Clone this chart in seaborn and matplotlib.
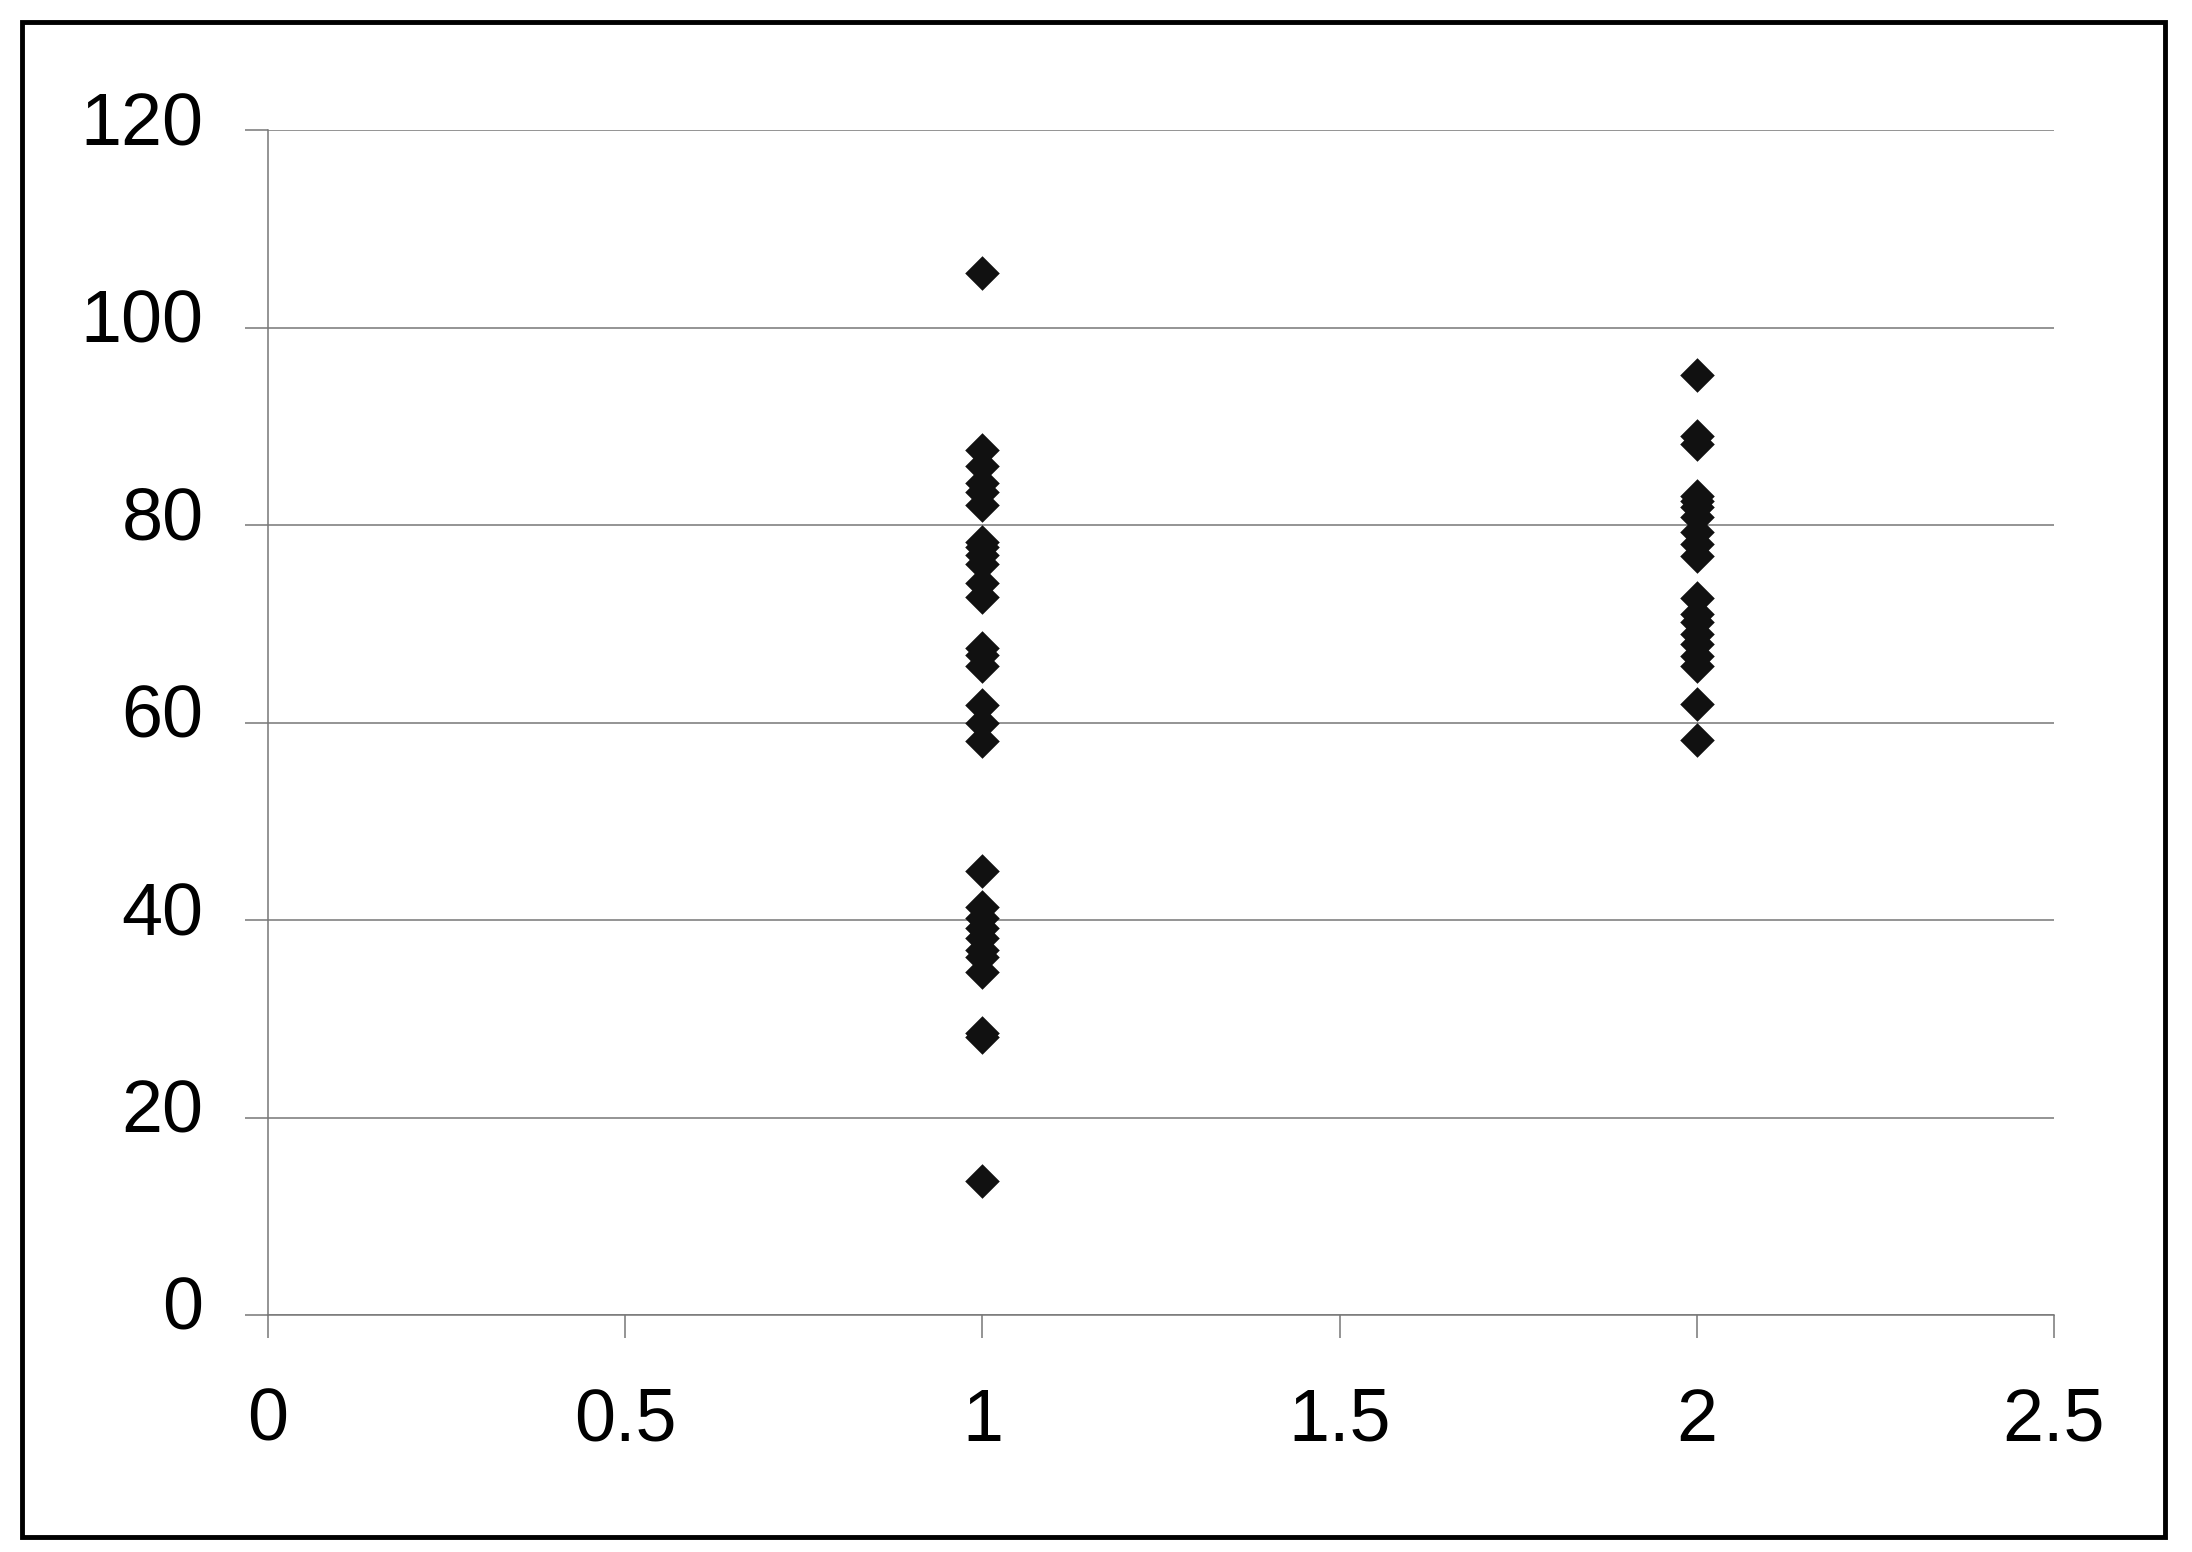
import numpy as np
import pandas as pd
import matplotlib
matplotlib.use("Agg")
import matplotlib.pyplot as plt
import matplotlib.transforms as mtransforms
import seaborn as sns
from matplotlib.patches import Rectangle

# Data
group1_values = [105.5, 87.6, 86.0, 84.3, 83.3, 82.0, 78.3, 77.8, 77.0, 76.1, 74.1, 72.7,
                 67.5, 66.8, 65.7, 61.8, 60.0, 58.1,
                 45.0, 41.3, 40.2, 39.2, 38.2, 37.0, 36.3, 34.7, 28.6, 28.2, 13.6]
group2_values = [95.2, 89.0, 88.2, 82.9, 82.4, 81.8, 80.8, 79.3, 78.1, 76.9,
                 72.6, 71.0, 70.2, 69.0, 68.0, 66.7, 65.7, 61.9, 58.2]
x_ticks = [0, 0.5, 1, 1.5, 2, 2.5]
y_ticks = [0, 20, 40, 60, 80, 100, 120]

df = pd.DataFrame({
    "x": [1] * len(group1_values) + [2] * len(group2_values),
    "y": group1_values + group2_values,
})

sns.set_theme(style="white")
plt.rcParams["font.family"] = ["Liberation Sans", "DejaVu Sans"]

fig = plt.figure(figsize=(21.92, 15.52), dpi=100)
ax = fig.add_axes([268 / 2192, 1 - 1315 / 1552, (2054 - 268) / 2192, (1315 - 130) / 1552])

sns.scatterplot(data=df, x="x", y="y", marker="D", s=310, color="#111111",
                linewidth=0, ax=ax, legend=False, zorder=3)

ax.set_xlim(0, 2.5)
ax.set_ylim(0, 120)
ax.set_xticks(x_ticks)
ax.set_xticklabels(["0", "0.5", "1", "1.5", "2", "2.5"])
ax.set_yticks(y_ticks)
ax.set_yticklabels([str(v) for v in y_ticks])
ax.set_xlabel("")
ax.set_ylabel("")

ax.yaxis.grid(True, color="#777777", linewidth=1.1)
ax.xaxis.grid(False)
for side in ["top", "right"]:
    ax.spines[side].set_visible(False)
for side in ["left", "bottom"]:
    ax.spines[side].set_color("#777777")
    ax.spines[side].set_linewidth(1.1)

ax.tick_params(axis="y", direction="out", length=16.5, width=1.1, color="#777777",
               pad=30, labelsize=53, labelcolor="black", left=True)
ax.tick_params(axis="x", direction="out", length=16.5, width=1.1, color="#777777",
               pad=35, labelsize=53, labelcolor="black", bottom=True)

# shift y tick labels slightly upward to match reference
offset = mtransforms.ScaledTranslation(0, 12 / 100, fig.dpi_scale_trans)
for lab in ax.get_yticklabels():
    lab.set_transform(lab.get_transform() + offset)

# outer frame
fig.patches.append(Rectangle((22 / 2192, 1 - 1537 / 1552), (2165 - 22) / 2192, (1537 - 22) / 1552,
                             transform=fig.transFigure, fill=False, edgecolor="black",
                             linewidth=3.5, zorder=10))

fig.savefig("out.png", dpi=100, facecolor="white")
